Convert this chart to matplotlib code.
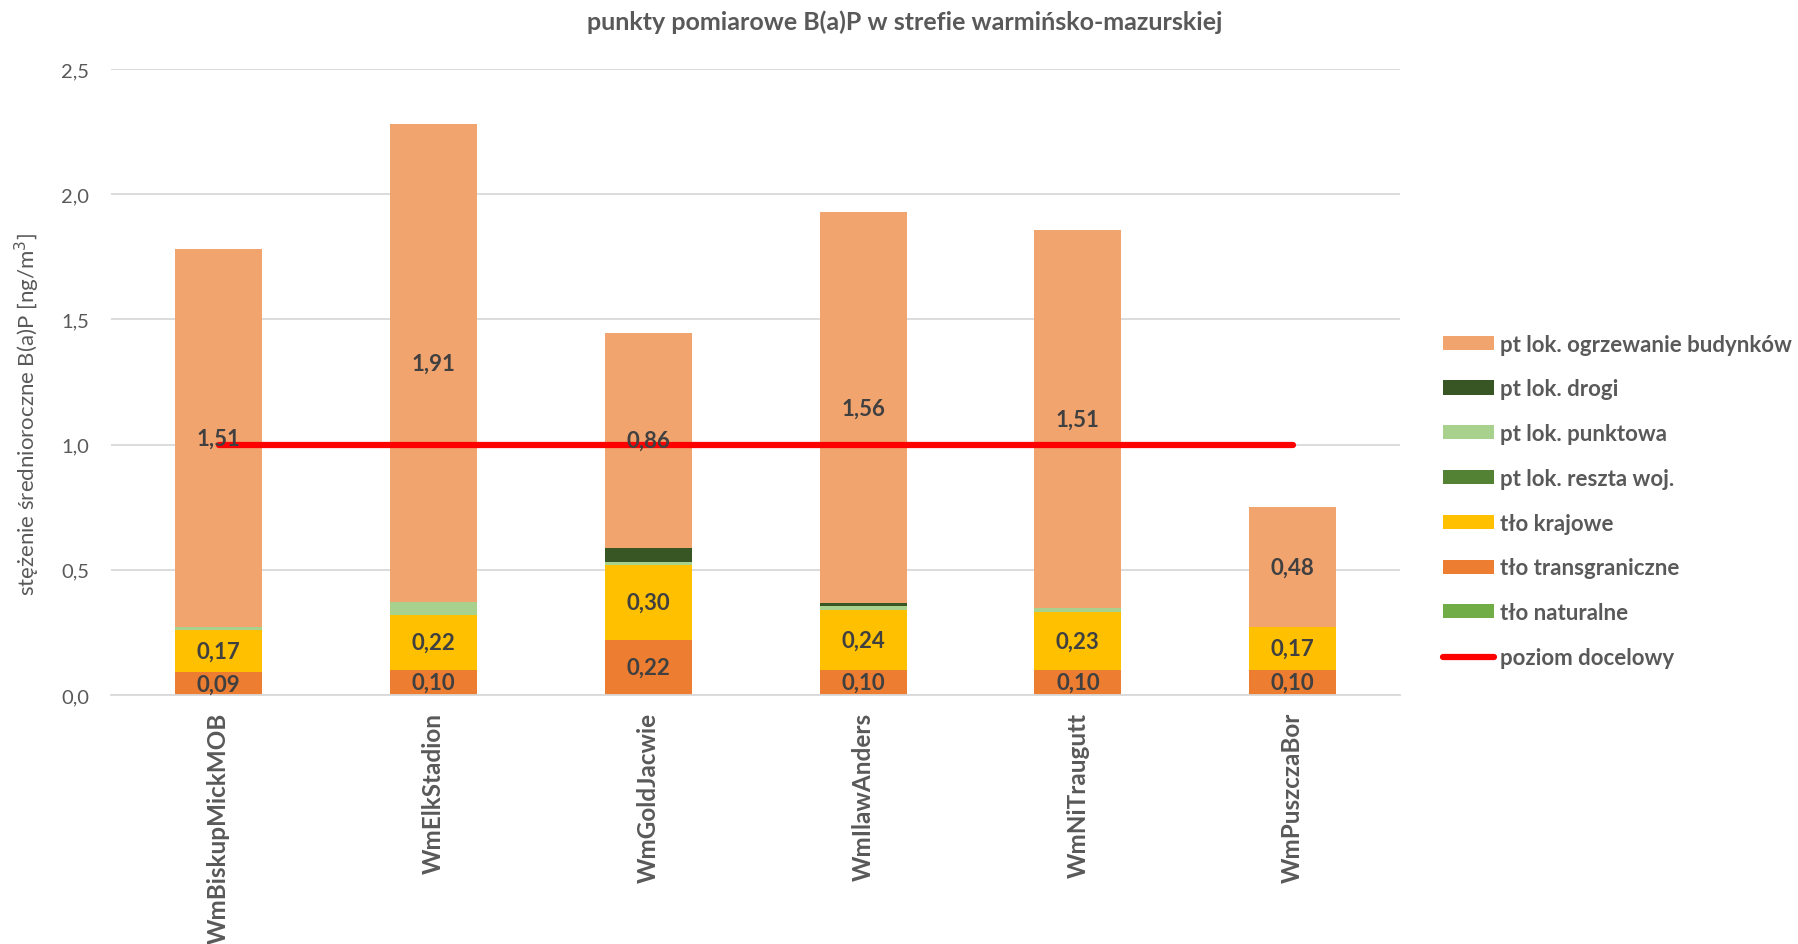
import matplotlib
matplotlib.use("Agg")
import matplotlib.pyplot as plt
import numpy as np
from matplotlib.patches import Patch
from matplotlib.lines import Line2D

plt.rcParams['font.family'] = ['Lato', 'DejaVu Sans']

stations = ["WmBiskupMickMOB", "WmElkStadion", "WmGoldJacwie",
            "WmIlawAnders", "WmNiTraugutt", "WmPuszczaBor"]

# stacked from bottom to top
tlo_naturalne = [0.0, 0.0, 0.0, 0.0, 0.0, 0.0]
tlo_transgraniczne = [0.09, 0.10, 0.22, 0.10, 0.10, 0.10]
tlo_krajowe = [0.17, 0.22, 0.30, 0.24, 0.23, 0.17]
pt_reszta = [0.0, 0.0, 0.0, 0.0, 0.0, 0.0]
pt_punktowa = [0.01, 0.05, 0.01, 0.017, 0.017, 0.0]
pt_drogi = [0.0, 0.0, 0.057, 0.01, 0.0, 0.0]
pt_ogrzewanie = [1.51, 1.91, 0.86, 1.56, 1.51, 0.48]
poziom_docelowy = [1.0, 1.0, 1.0, 1.0, 1.0, 1.0]

series = [
    ("tło naturalne", tlo_naturalne, "#70AD47", False),
    ("tło transgraniczne", tlo_transgraniczne, "#ED7D31", True),
    ("tło krajowe", tlo_krajowe, "#FFC000", True),
    ("pt lok. reszta woj.", pt_reszta, "#548235", False),
    ("pt lok. punktowa", pt_punktowa, "#A9D18E", False),
    ("pt lok. drogi", pt_drogi, "#375623", False),
    ("pt lok. ogrzewanie budynków", pt_ogrzewanie, "#F2A46F", True),
]

fig = plt.figure(figsize=(17.98, 9.45), dpi=100)
ax = fig.add_axes([0.0618, 0.2635, 0.7169, 0.6625])

x = np.arange(len(stations))
bottom = np.zeros(len(stations))
for name, vals, col, lab in series:
    vals = np.array(vals)
    ax.bar(x, vals, 0.405, bottom=bottom, color=col, zorder=2)
    if lab:
        for xi, b, v in zip(x, bottom, vals):
            ax.text(xi, b + v / 2, f"{v:.2f}".replace(".", ","), ha="center",
                    va="center", fontsize=16, fontweight="bold",
                    color="#404040", zorder=5)
    bottom += vals

ax.plot(x, poziom_docelowy, color="#FF0000", lw=4.5, solid_capstyle="round",
        zorder=4)

ax.set_xlim(-0.5, len(stations) - 0.5)
ax.set_ylim(0, 2.5)
yt = np.arange(0, 2.51, 0.5)
ax.set_yticks(yt)
ax.set_yticklabels([f"{v:.1f}".replace(".", ",") for v in yt], fontsize=14.5,
                   color="#595959")
ax.set_xticks(x)
ax.set_xticklabels(stations, rotation=90, fontsize=17.5, fontweight="bold",
                   color="#595959")
ax.tick_params(axis="both", length=0)
ax.tick_params(axis="x", pad=12)
ax.tick_params(axis="y", pad=16)
ax.grid(axis="y", color="#D9D9D9", lw=1.3, zorder=0)
for s in ["top", "right", "left"]:
    ax.spines[s].set_visible(False)
ax.spines["bottom"].set_color("#D9D9D9")
ax.spines["bottom"].set_linewidth(1.3)

ax.set_ylabel("stężenie średnioroczne B(a)P [ng/m$^3$]", fontsize=16,
              color="#595959")
ax.yaxis.set_label_coords(-0.054, 0.449)

fig.text(0.503, 0.977, "punkty pomiarowe B(a)P w strefie warmińsko-mazurskiej",
         ha="center", va="center", fontsize=18, fontweight="bold",
         color="#595959")

handles = []
for name, vals, col, lab in reversed(series):
    handles.append(Patch(facecolor=col, label=name))
handles.append(Line2D([0], [0], color="#FF0000", lw=4.5,
                      solid_capstyle="round", label="poziom docelowy"))
leg = fig.legend(handles=handles, loc="upper left",
                 bbox_to_anchor=(0.8025, 0.646), frameon=False, fontsize=16,
                 handlelength=2.3, handleheight=0.6, handletextpad=0.25,
                 labelspacing=1.07, borderpad=0, borderaxespad=0)
for t in leg.get_texts():
    t.set_fontweight("bold")
    t.set_color("#595959")

fig.savefig("out.png", dpi=100)
